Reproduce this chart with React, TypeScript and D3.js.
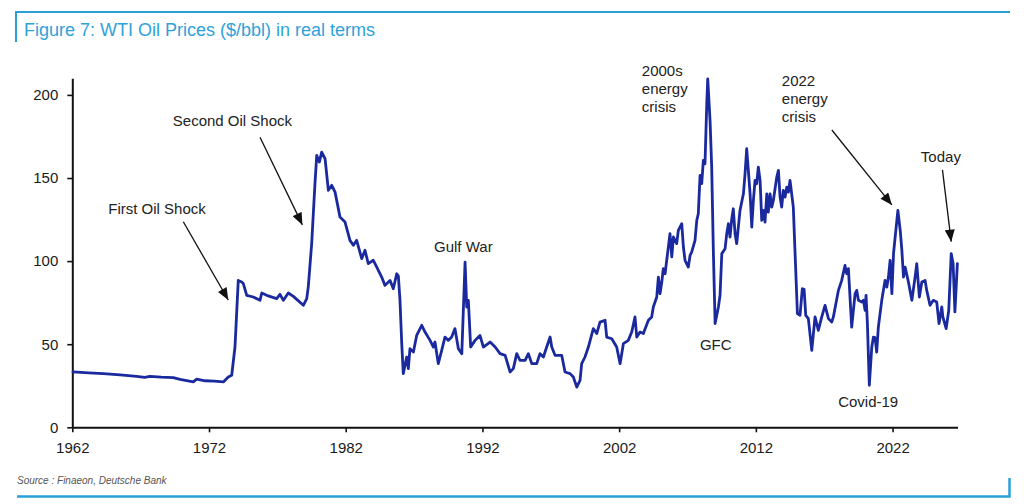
import React, { useEffect, useRef } from 'react';
import * as d3 from 'd3';

// WTI real price (decimal year, $/bbl)
const years = [
  1962.05, 1963.2, 1964.27, 1965.5, 1966.71, 1967.3, 1967.68, 1968.5, 1969.39, 1969.88,
  1970.85, 1971.1, 1971.71, 1972.4, 1973.05, 1973.41, 1973.66, 1973.9, 1974.14, 1974.39,
  1974.51, 1974.76, 1975.24, 1975.73, 1975.86, 1976.22, 1976.95, 1977.19, 1977.44, 1977.8,
  1978.17, 1978.9, 1979.15, 1979.26, 1979.51, 1979.75, 1979.88, 1980.07, 1980.24, 1980.49,
  1980.73, 1980.98, 1981.22, 1981.58, 1981.95, 1982.31, 1982.56, 1982.8, 1983.17, 1983.41,
  1983.65, 1984.02, 1984.27, 1984.63, 1984.87, 1985.24, 1985.48, 1985.73, 1985.85, 1985.97,
  1986.1, 1986.21, 1986.46, 1986.58, 1986.7, 1986.95, 1987.19, 1987.56, 1987.8, 1988.17,
  1988.41, 1988.53, 1988.77, 1989.02, 1989.26, 1989.51, 1989.75, 1989.99, 1990.24, 1990.49,
  1990.73, 1990.85, 1990.97, 1991.14, 1991.46, 1991.82, 1992.07, 1992.56, 1992.93, 1993.29,
  1993.66, 1994.02, 1994.26, 1994.51, 1994.75, 1995.12, 1995.36, 1995.61, 1995.97, 1996.21,
  1996.46, 1996.7, 1996.95, 1997.07, 1997.31, 1997.8, 1998.04, 1998.41, 1998.65, 1998.9,
  1999.14, 1999.26, 1999.5, 1999.75, 2000.11, 2000.36, 2000.6, 2000.97, 2001.09, 2001.46,
  2001.82, 2002.07, 2002.31, 2002.67, 2002.92, 2003.16, 2003.29, 2003.53, 2003.77, 2004.14,
  2004.38, 2004.5, 2004.75, 2004.87, 2004.99, 2005.12, 2005.23, 2005.36, 2005.48, 2005.72,
  2005.85, 2005.97, 2006.21, 2006.33, 2006.58, 2006.7, 2006.82, 2007.06, 2007.19, 2007.31,
  2007.55, 2007.68, 2007.79, 2007.92, 2008.04, 2008.16, 2008.28, 2008.41, 2008.48, 2008.65,
  2008.77, 2008.89, 2009.02, 2009.26, 2009.38, 2009.51, 2009.75, 2009.87, 2009.99, 2010.11,
  2010.24, 2010.35, 2010.48, 2010.6, 2010.72, 2010.84, 2011.09, 2011.21, 2011.33, 2011.45,
  2011.58, 2011.7, 2011.82, 2011.94, 2012.06, 2012.18, 2012.31, 2012.43, 2012.55, 2012.67,
  2012.8, 2012.91, 2013.04, 2013.16, 2013.28, 2013.53, 2013.65, 2013.77, 2013.89, 2014.01,
  2014.14, 2014.26, 2014.38, 2014.5, 2014.62, 2014.74, 2014.87, 2015.04, 2015.23, 2015.4,
  2015.53, 2015.65, 2015.84, 2016.09, 2016.33, 2016.57, 2016.82, 2017.06, 2017.31, 2017.55,
  2017.67, 2018.04, 2018.28, 2018.52, 2018.65, 2018.77, 2019.01, 2019.26, 2019.38, 2019.5,
  2019.75, 2019.87, 2019.99, 2020.06, 2020.16, 2020.3, 2020.48, 2020.6, 2020.72, 2020.84,
  2020.96, 2021.21, 2021.45, 2021.58, 2021.7, 2021.82, 2021.95, 2022.07, 2022.19, 2022.39,
  2022.56, 2022.68, 2022.8, 2022.92, 2023.16, 2023.41, 2023.65, 2023.77, 2023.96, 2024.14,
  2024.38, 2024.5, 2024.74, 2024.98, 2025.23, 2025.4, 2025.6, 2025.68, 2025.92, 2026.11,
  2026.29, 2026.43, 2026.56, 2026.66, 2026.74,
];

const prices = [
  33.3, 32.8, 32.3, 31.6, 30.7, 30.0, 30.7, 30.2, 29.9, 28.8,
  27.3, 29.0, 28.0, 27.8, 27.3, 30.3, 31.3, 48.3, 88.4, 87.4,
  86.5, 79.4, 78.4, 76.4, 80.8, 79.4, 77.4, 80.0, 76.4, 80.8,
  78.8, 73.4, 77.4, 84.4, 110.5, 146.6, 163.6, 159.6, 165.6, 161.6,
  142.6, 145.6, 141.5, 126.5, 123.5, 112.5, 109.5, 112.5, 101.5, 106.5,
  98.5, 100.5, 96.4, 90.4, 85.4, 88.4, 83.4, 92.4, 91.0, 76.4,
  50.0, 32.3, 42.3, 35.3, 47.3, 45.3, 55.3, 61.4, 57.3, 52.3,
  48.3, 51.3, 38.3, 46.3, 54.3, 52.3, 54.3, 59.4, 47.3, 44.3,
  99.4, 72.4, 76.4, 48.3, 52.3, 55.3, 48.3, 51.3, 48.3, 44.3,
  43.3, 33.3, 35.3, 44.3, 40.3, 40.3, 44.3, 38.3, 38.3, 44.3,
  42.3, 48.3, 54.3, 48.3, 43.3, 43.3, 33.3, 32.3, 30.3, 24.2,
  28.3, 38.3, 42.3, 48.3, 59.4, 56.4, 63.3, 64.4, 54.3, 53.3,
  48.3, 38.3, 50.3, 52.3, 57.3, 66.4, 54.3, 57.3, 56.4, 64.4,
  66.4, 72.4, 78.4, 90.4, 80.4, 87.4, 95.5, 92.4, 100.5, 116.5,
  102.5, 114.5, 110.5, 118.5, 122.5, 108.5, 100.5, 96.4, 103.5, 105.5,
  112.5, 124.5, 128.5, 151.6, 146.6, 160.6, 158.6, 194.7, 209.7, 184.7,
  156.6, 106.5, 62.4, 72.4, 79.4, 104.5, 107.5, 116.5, 122.5, 114.5,
  125.5, 131.5, 116.5, 110.5, 120.5, 130.5, 140.5, 152.6, 167.6, 154.6,
  140.5, 120.5, 136.5, 148.6, 146.6, 156.6, 148.6, 124.5, 130.5, 123.5,
  140.5, 129.5, 140.5, 132.5, 136.5, 150.6, 154.6, 138.5, 132.5, 142.6,
  138.5, 144.5, 141.5, 148.6, 140.5, 132.5, 104.5, 68.4, 67.4, 83.4,
  83.0, 67.4, 65.4, 46.3, 66.4, 58.3, 66.4, 73.4, 65.4, 63.3,
  66.4, 82.4, 88.4, 97.4, 92.4, 95.5, 60.3, 80.4, 82.4, 76.4,
  75.4, 76.4, 70.4, 79.4, 62.4, 25.3, 48.3, 54.3, 54.0, 45.3,
  60.3, 76.4, 88.4, 84.4, 90.4, 100.5, 80.4, 104.5, 114.5, 130.5,
  118.5, 106.5, 90.4, 96.4, 87.4, 76.4, 90.4, 98.5, 78.4, 87.4,
  88.4, 82.4, 73.4, 76.4, 75.4, 62.4, 72.4, 66.4, 59.4, 70.4,
  104.5, 98.5, 69.4, 85.4, 98.5,
];

const yTicks = [0, 50, 100, 150, 200];
const xTicks = [1962, 1972, 1982, 1992, 2002, 2012, 2022];

const titleText = 'Figure 7: WTI Oil Prices ($/bbl) in real terms';
const sourceText = 'Source : Finaeon, Deutsche Bank';

// annotation text anchored in data space; arrow = [fromYear, fromValue, toYear, toValue]
interface Note {
  lines: string[];
  year: number;
  value: number;
  anchor: 'start' | 'middle';
  arrow?: [number, number, number, number];
}

const notes: Note[] = [
  { lines: ['First Oil Shock'], year: 1964.63, value: 128.4, anchor: 'start', arrow: [1970.12, 123.7, 1973.41, 76.6] },
  { lines: ['Second Oil Shock'], year: 1969.35, value: 181.3, anchor: 'start', arrow: [1975.73, 174.5, 1978.83, 121.8] },
  { lines: ['Gulf War'], year: 1988.46, value: 105.2, anchor: 'start' },
  { lines: ['2000s', 'energy', 'crisis'], year: 2003.66, value: 211.4, anchor: 'start' },
  { lines: ['GFC'], year: 2009.07, value: 46.8, anchor: 'middle' },
  { lines: ['2022', 'energy', 'crisis'], year: 2013.9, value: 205.4, anchor: 'start', arrow: [2017.56, 178.9, 2021.95, 133.8] },
  { lines: ['Today'], year: 2024.07, value: 159.7, anchor: 'start', arrow: [2025.65, 154.9, 2026.29, 111.7] },
  { lines: ['Covid-19'], year: 2018.02, value: 12.2, anchor: 'start' },
];

const FONT = '"Liberation Sans", Arial, Helvetica, sans-serif';
const BLUE_FRAME = '#2a9fd8';
const LINE_BLUE = '#1a2a9e';

const App: React.FC = () => {
  const chartRef = useRef<SVGSVGElement>(null);

  useEffect(() => {
    if (!chartRef.current) return;
    const width = 1024;
    const height = 504;

    d3.select(chartRef.current).selectAll('*').remove();

    const svg = d3.select(chartRef.current)
      .attr('width', width)
      .attr('height', height)
      .attr('font-family', FONT);

    svg.append('rect').attr('width', width).attr('height', height).attr('fill', '#fff');

    // Scales
    const x = d3.scaleLinear().domain([1962, 2026.75]).range([72.3, 957.5]);
    const y = d3.scaleLinear().domain([0, 210]).range([427.3, 78.3]);

    // Frame + title
    svg.append('path')
      .attr('d', 'M16,42 V12 H1010')
      .attr('fill', 'none')
      .attr('stroke', BLUE_FRAME)
      .attr('stroke-width', 2);

    svg.append('text')
      .attr('x', 24)
      .attr('y', 36)
      .attr('fill', '#2ea2da')
      .attr('font-size', '18px')
      .text(titleText);

    svg.append('path')
      .attr('d', 'M17,496.5 H1009.5 V478')
      .attr('fill', 'none')
      .attr('stroke', BLUE_FRAME)
      .attr('stroke-width', 2.5);

    svg.append('text')
      .attr('x', 17)
      .attr('y', 484)
      .attr('fill', '#555')
      .attr('font-size', '10px')
      .attr('font-style', 'italic')
      .text(sourceText);

    // Axes
    const yAxis = svg.append('g')
      .attr('transform', `translate(${x(1962)},0)`)
      .call(d3.axisLeft(y).tickValues(yTicks).tickSize(5).tickSizeOuter(0).tickPadding(9));

    const xAxis = svg.append('g')
      .attr('transform', `translate(0,${y(0)})`)
      .call(d3.axisBottom(x).tickValues(xTicks).tickFormat(d3.format('d')).tickSize(5).tickSizeOuter(0).tickPadding(10));

    [yAxis, xAxis].forEach(ax => {
      ax.attr('font-family', FONT).attr('font-size', '15px');
      ax.select('.domain').attr('stroke', '#111').attr('stroke-width', 2);
      ax.selectAll('.tick line').attr('stroke', '#111').attr('stroke-width', 1.6);
      ax.selectAll('.tick text').attr('fill', '#1a1a1a');
    });

    // Price line
    const series = years.map((yr, i) => ({ yr, v: prices[i] }));
    const line = d3.line<{ yr: number; v: number }>()
      .x(d => x(d.yr))
      .y(d => y(d.v));

    svg.append('path')
      .datum(series)
      .attr('d', line)
      .attr('fill', 'none')
      .attr('stroke', LINE_BLUE)
      .attr('stroke-width', 2.8)
      .attr('stroke-linejoin', 'round')
      .attr('stroke-linecap', 'round');

    // Arrow marker
    svg.append('defs').append('marker')
      .attr('id', 'arrowhead')
      .attr('viewBox', '0 0 12 10')
      .attr('refX', 12)
      .attr('refY', 5)
      .attr('markerWidth', 13)
      .attr('markerHeight', 10)
      .attr('markerUnits', 'userSpaceOnUse')
      .attr('orient', 'auto')
      .append('path')
      .attr('d', 'M0,0 L12,5 L0,10 Z')
      .attr('fill', '#111');

    // Annotations
    notes.forEach(n => {
      if (n.arrow) {
        const [x1, y1, x2, y2] = n.arrow;
        svg.append('line')
          .attr('x1', x(x1))
          .attr('y1', y(y1))
          .attr('x2', x(x2))
          .attr('y2', y(y2))
          .attr('stroke', '#111')
          .attr('stroke-width', 1.3)
          .attr('marker-end', 'url(#arrowhead)');
      }
      const t = svg.append('text')
        .attr('x', x(n.year))
        .attr('y', y(n.value))
        .attr('text-anchor', n.anchor)
        .attr('fill', '#222')
        .attr('font-size', '15px');
      n.lines.forEach((l, i) => {
        t.append('tspan')
          .attr('x', x(n.year))
          .attr('dy', i === 0 ? 0 : 18)
          .text(l);
      });
    });
  }, []);

  return (
    <div style={{ position: 'absolute', left: 0, top: 0 }}>
      <svg ref={chartRef}></svg>
    </div>
  );
};

export default App;
